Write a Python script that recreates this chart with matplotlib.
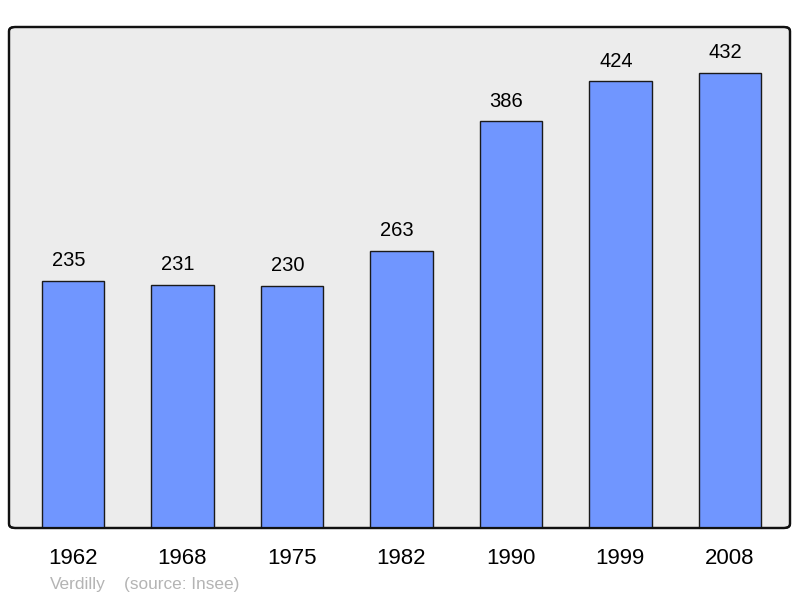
import matplotlib
matplotlib.use('Agg')
import matplotlib.pyplot as plt
from matplotlib.patches import FancyBboxPatch

# Population data
years = ['1962', '1968', '1975', '1982', '1990', '1999', '2008']
population = [235, 231, 230, 263, 386, 424, 432]
town = 'Verdilly'
source = '(source: Insee)'

plt.rcParams['font.family'] = ['Liberation Sans', 'DejaVu Sans']

fig = plt.figure(figsize=(8.0, 5.98), dpi=100)
ax = fig.add_axes([9/800, 1 - 528/598, 781/800, 501/598])

pos = list(range(len(years)))
ax.bar(pos, population, width=0.57, color='#7096ff', edgecolor='#1a1a1a', linewidth=1.0, zorder=2)

# value labels, sitting a little left of the bar centre like the original
for x, v in zip(pos, population):
    ax.text(x - 0.04, v + 10, str(v), ha='center', va='bottom', fontsize=14.5, color='black')

ax.set_xlim(-0.585, 6.55)
ax.set_ylim(0, 475.7)
ax.set_facecolor('none')
for s in ax.spines.values():
    s.set_visible(False)
ax.set_xticks([])
ax.set_yticks([])

# rounded frame with gray background
frame = FancyBboxPatch((0, 0), 1, 1, boxstyle='round,pad=0,rounding_size=0.008',
                       transform=ax.transAxes, facecolor='#ececec', edgecolor='#111111',
                       linewidth=1.6, zorder=0, clip_on=False)
ax.add_patch(frame)
# border again on top of the bars
border = FancyBboxPatch((0, 0), 1, 1, boxstyle='round,pad=0,rounding_size=0.008',
                        transform=ax.transAxes, facecolor='none', edgecolor='#111111',
                        linewidth=1.6, zorder=3, clip_on=False)
ax.add_patch(border)

for x, y in zip(pos, years):
    ax.text(x, -29, y, ha='center', va='center', fontsize=16, color='black')

fig.text(50/800, 1 - 584/598, town, ha='left', va='center', fontsize=12.4, color='#b4b4b4')
fig.text(124/800, 1 - 584/598, source, ha='left', va='center', fontsize=12.4, color='#b4b4b4')

fig.savefig('out.png', dpi=100)
